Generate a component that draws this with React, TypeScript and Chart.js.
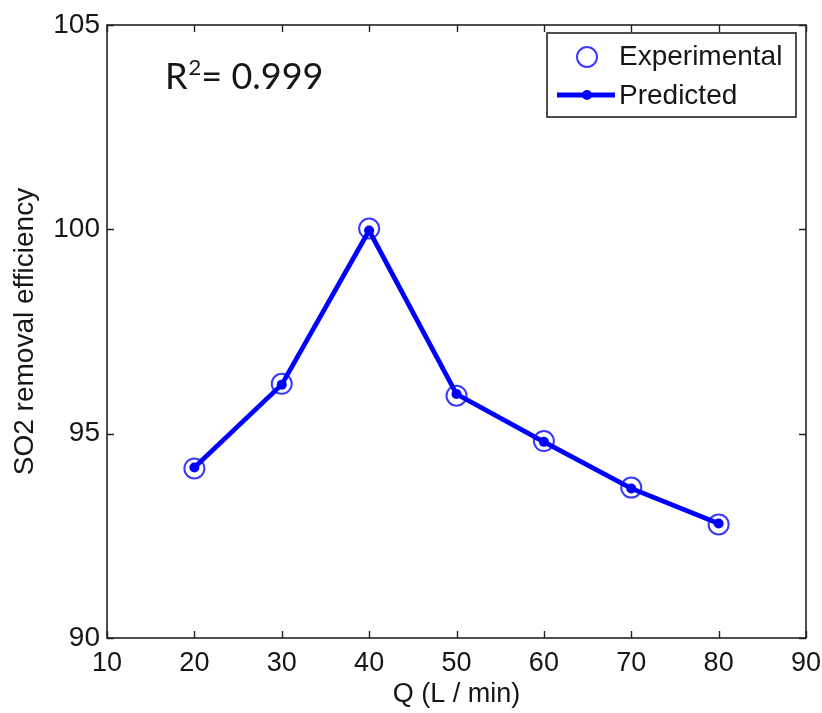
import React, { useEffect, useRef } from "react";
import { Chart, registerables } from "chart.js";

Chart.register(...registerables);

const qValues = [20, 30, 40, 50, 60, 70, 80];
const experimental = [94.15, 96.22, 100.02, 95.93, 94.82, 93.68, 92.78];
const predicted = [94.17, 96.2, 99.97, 95.97, 94.8, 93.66, 92.8];
const xTickValues = [10, 20, 30, 40, 50, 60, 70, 80, 90];
const yTickValues = [90, 95, 100, 105];
const xTitle = "Q (L / min)";
const yTitle = "SO2 removal efficiency";
const legendLabels = ["Experimental", "Predicted"];
const r2Text = "0.999";

const TICK_FONT = "'Liberation Sans', Arial, sans-serif";
const BLUE = "#0000ff";
const CIRCLE = "#3a3aff";
const INK = "#161616";

const framePlugin = {
  id: "frame",
  afterDraw(chart: any) {
    const { ctx, chartArea } = chart;
    const { left, right, top, bottom } = chartArea;
    const xs = chart.scales.x;
    const ys = chart.scales.y;
    ctx.save();
    ctx.strokeStyle = "#222";
    ctx.lineWidth = 1.6;
    ctx.strokeRect(left, top, right - left, bottom - top);
    const tl = 7;
    ctx.lineWidth = 1.4;
    ctx.beginPath();
    xTickValues.forEach((v) => {
      const px = Math.round(xs.getPixelForValue(v)) + 0.5;
      ctx.moveTo(px, bottom);
      ctx.lineTo(px, bottom - tl);
      ctx.moveTo(px, top);
      ctx.lineTo(px, top + tl);
    });
    yTickValues.forEach((v) => {
      const py = Math.round(ys.getPixelForValue(v)) + 0.5;
      ctx.moveTo(left, py);
      ctx.lineTo(left + tl, py);
      ctx.moveTo(right, py);
      ctx.lineTo(right - tl, py);
    });
    ctx.stroke();

    // legend
    const bx = right - 259;
    const by = top + 8;
    const bw = 249;
    const bh = 84;
    ctx.fillStyle = "#fff";
    ctx.fillRect(bx, by, bw, bh);
    ctx.strokeStyle = "#222";
    ctx.lineWidth = 1.6;
    ctx.strokeRect(bx, by, bw, bh);
    ctx.strokeStyle = CIRCLE;
    ctx.lineWidth = 2;
    ctx.beginPath();
    ctx.arc(bx + 40, by + 24, 10, 0, Math.PI * 2);
    ctx.stroke();
    ctx.strokeStyle = BLUE;
    ctx.lineWidth = 5;
    ctx.beginPath();
    ctx.moveTo(bx + 10, by + 62);
    ctx.lineTo(bx + 68, by + 62);
    ctx.stroke();
    ctx.fillStyle = BLUE;
    ctx.beginPath();
    ctx.arc(bx + 40, by + 62, 5, 0, Math.PI * 2);
    ctx.fill();
    ctx.fillStyle = INK;
    ctx.font = `28px ${TICK_FONT}`;
    ctx.textAlign = "left";
    ctx.textBaseline = "middle";
    ctx.fillText(legendLabels[0], bx + 72, by + 24);
    ctx.fillText(legendLabels[1], bx + 72, by + 63);

    // R^2 annotation
    ctx.textBaseline = "alphabetic";
    const big = "36px Lato, 'Open Sans', sans-serif";
    const small = "22px Lato, 'Open Sans', sans-serif";
    ctx.font = big;
    const rx = left + 58;
    const ry = top + 64;
    ctx.fillText("R", rx, ry);
    const rw = ctx.measureText("R").width;
    ctx.font = small;
    ctx.fillText("2", rx + rw + 1, ry - 14);
    const sw = ctx.measureText("2").width;
    ctx.font = big;
    ctx.fillText("= " + r2Text, rx + rw + sw + 1, ry);
    ctx.restore();
  },
};

export default function App() {
  const canvasRef = useRef<HTMLCanvasElement | null>(null);

  useEffect(() => {
    const canvas = canvasRef.current;
    if (!canvas) return;
    const chart = new Chart(canvas, {
      type: "line",
      data: {
        datasets: [
          {
            label: legendLabels[1],
            data: qValues.map((q, i) => ({ x: q, y: predicted[i] })),
            borderColor: BLUE,
            backgroundColor: BLUE,
            borderWidth: 4.8,
            pointRadius: 5,
            pointBorderWidth: 0,
            pointBackgroundColor: BLUE,
            tension: 0,
          },
          {
            label: legendLabels[0],
            data: qValues.map((q, i) => ({ x: q, y: experimental[i] })),
            showLine: false,
            borderColor: CIRCLE,
            backgroundColor: "rgba(0,0,0,0)",
            pointRadius: 10,
            pointBorderWidth: 2,
            pointBorderColor: CIRCLE,
            pointBackgroundColor: "rgba(0,0,0,0)",
          },
        ],
      },
      options: {
        responsive: false,
        animation: false,
        events: [],
        layout: { padding: { left: 0, right: 16, top: 25, bottom: 0 } },
        plugins: {
          legend: { display: false },
          tooltip: { enabled: false },
        },
        scales: {
          x: {
            type: "linear",
            min: 10,
            max: 90,
            afterFit: (s: any) => {
              s.height = 75;
              s.paddingLeft = 0;
              s.paddingRight = 0;
            },
            afterBuildTicks: (s: any) => {
              s.ticks = xTickValues.map((v) => ({ value: v }));
            },
            ticks: {
              font: { family: TICK_FONT, size: 27 },
              color: INK,
              padding: 9,
              maxRotation: 0,
              autoSkip: false,
            },
            grid: { display: false, drawTicks: false },
            border: { display: false },
            title: {
              display: true,
              text: xTitle,
              font: { family: TICK_FONT, size: 27 },
              color: INK,
              padding: { top: 0, bottom: 2 },
            },
          },
          y: {
            type: "linear",
            min: 90,
            max: 105,
            afterFit: (s: any) => {
              s.width = 107;
              s.paddingTop = 0;
              s.paddingBottom = 0;
            },
            afterBuildTicks: (s: any) => {
              s.ticks = yTickValues.map((v) => ({ value: v }));
            },
            ticks: {
              font: { family: TICK_FONT, size: 28 },
              color: INK,
              padding: 7,
              autoSkip: false,
            },
            grid: { display: false, drawTicks: false },
            border: { display: false },
            title: {
              display: true,
              text: yTitle,
              font: { family: TICK_FONT, size: 28 },
              color: INK,
              padding: { top: 8, bottom: 0 },
            },
          },
        },
      },
      plugins: [framePlugin],
    });
    return () => chart.destroy();
  }, []);

  return (
    <div style={{ position: "fixed", left: 0, top: 0, width: 822, height: 713, background: "#fff" }}>
      <canvas ref={canvasRef} width={822} height={713} style={{ display: "block" }} />
    </div>
  );
}
